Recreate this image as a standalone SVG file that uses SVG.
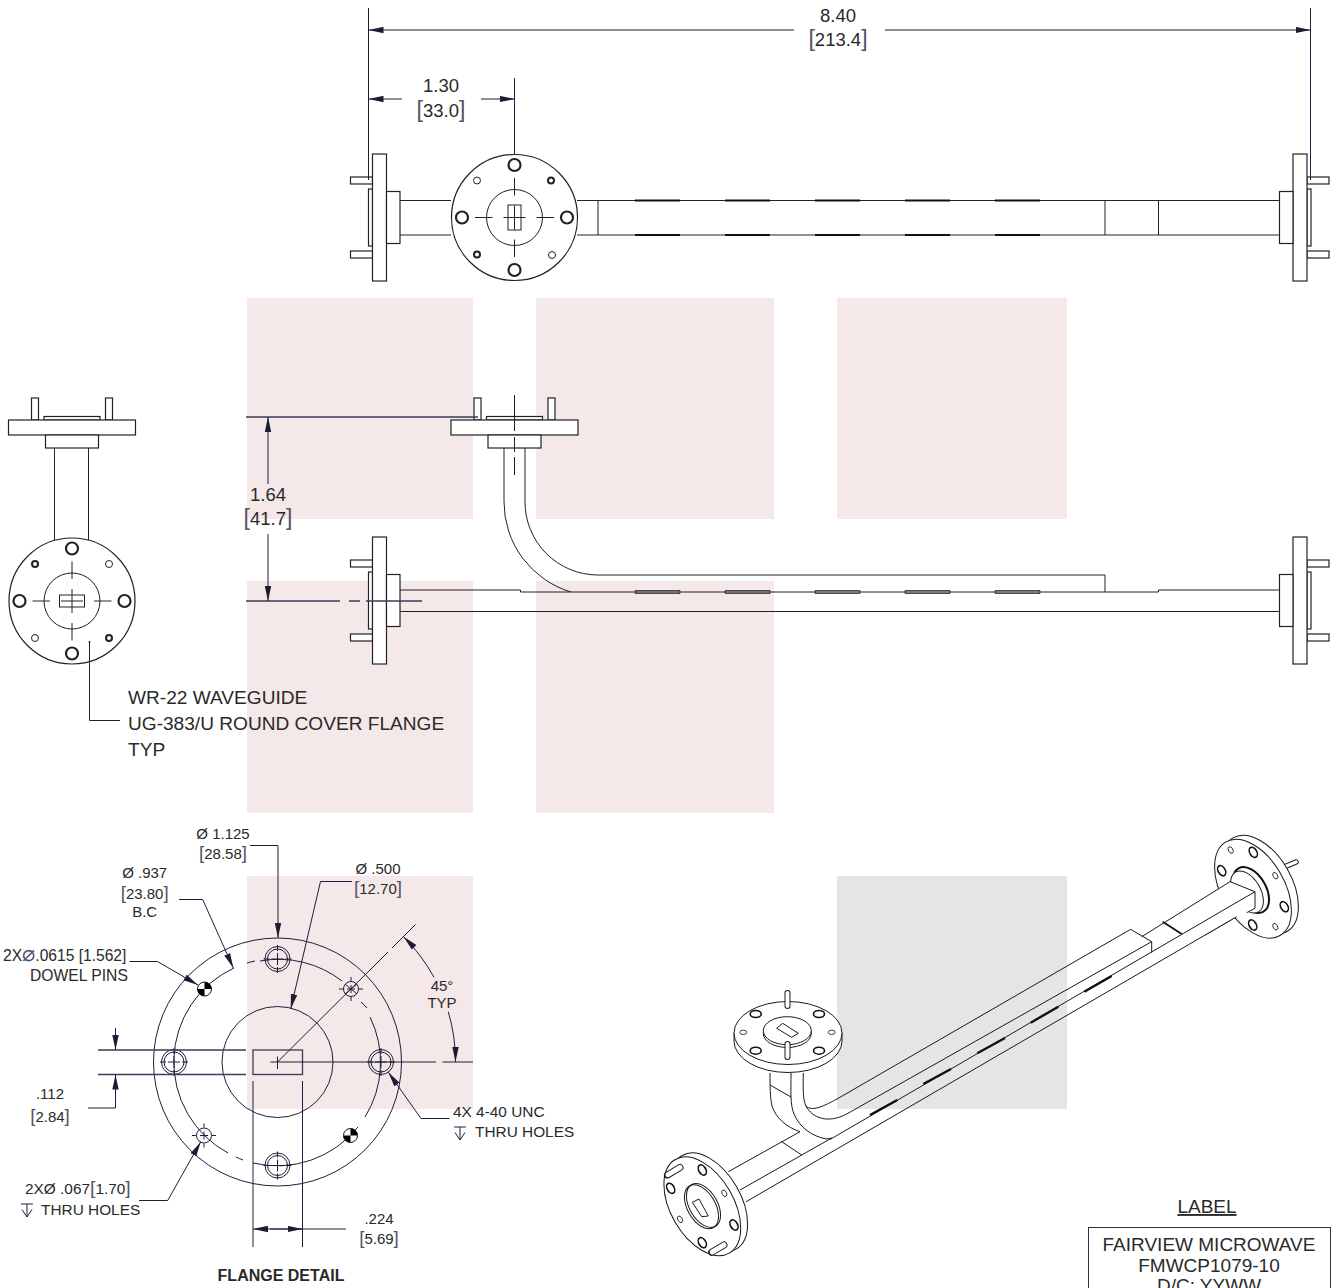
<svg xmlns="http://www.w3.org/2000/svg" width="1336" height="1288" viewBox="0 0 1336 1288">
<style>
text{font-family:"Liberation Sans",Arial,sans-serif;fill:#2a2a2a}
.t18{font-size:18.5px}.t15{font-size:15px}.t16{font-size:15.400px}.m{text-anchor:middle}
.lb{font-size:19px}
.b{font-size:1.25em;fill:#556}
.l,.l *{fill:none;stroke:#222;stroke-width:1}
.h{fill:#fff;stroke:#222;stroke-width:1.2}
.k{fill:none;stroke:#111;stroke-width:2.2}
.d{fill:none;stroke:#1e1e3c;stroke-width:1}
.dg{fill:none;stroke:#3c3c58;stroke-width:1.3}
.iso{fill:none;stroke:#1a1a1a;stroke-width:1}
.isoF{fill:#fff;stroke:#1a1a1a;stroke-width:1}
.pO{fill:none;stroke:#1a1a1a;stroke-width:7;stroke-linecap:round}
.pI{fill:none;stroke:#fff;stroke-width:5;stroke-linecap:round}
.th{fill:none;stroke:#111;stroke-width:2.4}
</style>
<defs>
<marker id="a" markerUnits="userSpaceOnUse" markerWidth="16" markerHeight="7" viewBox="0 0 16 7" refX="15" refY="3.500" orient="auto-start-reverse"><path d="M0 0.300L15 3.500L0 6.700Z" fill="#1c1c34"/></marker>
<g id="sf">
<rect class="h" x="350.500" y="-40.500" width="22" height="7"/><rect class="h" x="350.500" y="33.500" width="22" height="7"/>
<rect class="h" x="368.500" y="-28.500" width="4" height="57"/>
<rect class="h" x="372.500" y="-63.500" width="14" height="127"/>
<rect class="h" x="386.500" y="-26" width="13.500" height="52" stroke-width="1.500"/>
</g>
<g id="tf">
<rect class="h" x="-40.500" y="398" width="7" height="22"/><rect class="h" x="33.500" y="398" width="7" height="22"/>
<rect class="h" x="-28" y="416.500" width="56" height="3.500"/>
<rect class="h" x="-63.500" y="420" width="127" height="15"/>
<rect class="h" x="-26.500" y="435" width="53" height="13" stroke-width="1.500"/>
</g>
<g id="face">
<circle class="h" r="63"/><circle class="l" r="28"/>
<circle class="l" cx="0" cy="-52.500" r="6" style="stroke-width:2.200"/>
<circle class="l" cx="0" cy="52.500" r="6" style="stroke-width:2.200"/>
<circle class="l" cx="-52.500" cy="0" r="6" style="stroke-width:2.200"/>
<circle class="l" cx="52.500" cy="0" r="6" style="stroke-width:2.200"/>
<path class="l" d="M-39.500 0H-22M-11 0H11M22 0H39.500M0 -39.500V-22M0 -12V12M0 22V39.500"/>
</g>
<g id="bolt">
<circle r="12.500" fill="none" stroke="#1e1e3c"/><circle r="10" fill="none" stroke="#1e1e3c"/>
<path class="d" d="M-6 0H6M0 -6V6M-14 0H-8M8 0H14M0 -14V-8M0 8V14"/>
</g>
<g id="hole">
<circle r="7.500" fill="none" stroke="#1e1e3c"/>
<path class="d" d="M-4 0H4M0 -4V4M-12 0H-8M8 0H12M0 -12V-8M0 8V12"/>
</g>
<g id="dow"><circle r="7" fill="#fff" stroke="#111"/><path d="M0 0V-7A7 7 0 0 1 7 0ZM0 0V7A7 7 0 0 1 -7 0Z" fill="#000"/></g>
<path id="deep" class="d" d="M-6 0H6M0 0V13M-5 5.500L0 13L5 5.500"/>
<g id="ih"><ellipse rx="5.500" ry="3.500" fill="#fff" stroke="#111" stroke-width="1.600"/></g>
<g id="is"><ellipse rx="3.500" ry="2.200" fill="#fff" stroke="#111" stroke-width=".8"/></g>
</defs>

<g id="backgrounds" fill="#f4e8e8">
<rect x="247" y="298" width="226" height="221"/><rect x="536" y="298" width="238" height="221"/><rect x="837" y="298" width="230" height="221"/>
<rect x="247" y="581" width="226" height="232"/><rect x="536" y="581" width="238" height="232"/>
<rect x="247" y="876" width="226" height="233"/><rect x="837" y="876" width="230" height="233" fill="#e5e5e5"/>
</g>

<g id="top-view">
<g class="l"><path d="M400 200.500H451M400 235H451M577 200.500H1279.500M577 235H1279.500M598 200.500V235M1105 200.500V235M1158.500 200.500V235"/></g>
<path class="k" d="M635 200.500H680M725 200.500H770M815 200.500H860M905 200.500H950M995 200.500H1040M635 235H680M725 235H770M815 235H860M905 235H950M995 235H1040"/>
<use href="#sf" y="217.500"/>
<use href="#sf" transform="translate(1679.500,217.500) scale(-1,1)"/>
<use href="#face" x="514.500" y="217.500"/>
<circle class="l" cx="477" cy="180.500" r="3.500"/><circle class="l" cx="552" cy="255" r="3.500"/>
<circle class="l" cx="551" cy="180.500" r="3" style="stroke-width:2"/><circle class="l" cx="477" cy="254.500" r="3" style="stroke-width:2"/>
<rect class="l" x="508" y="205" width="13" height="25"/>
</g>

<g id="left-view">
<path class="l" d="M54.500 448V540M88.500 448V540"/>
<use href="#tf" x="72"/>
<use href="#face" x="72" y="601"/>
<circle class="l" cx="35" cy="564" r="3" style="stroke-width:2"/><circle class="l" cx="109" cy="564" r="3.500"/><circle class="l" cx="35" cy="638" r="3.500"/><circle class="l" cx="109" cy="638" r="3" style="stroke-width:2"/>
<rect class="l" x="59.500" y="595" width="25" height="12"/>
</g>

<g id="front-view">
<g class="l">
<path d="M504 448V501.500A94 94 0 0 0 571 592M525 448V501.500A73 73 0 0 0 598 575H1105V592"/>
<path d="M400 590H520.500V592H1158.500V590H1279.500M400 611.500H1279.500"/>
<path d="M635 590.700H680V593.300H635ZM725 590.700H770V593.300H725ZM815 590.700H860V593.300H815ZM905 590.700H950V593.300H905ZM995 590.700H1040V593.300H995Z"/>
</g>
<use href="#tf" x="514.500"/>
<use href="#sf" y="600.500"/>
<use href="#sf" transform="translate(1679.500,600.500) scale(-1,1)"/>
<path class="l" d="M514.500 395V431M514.500 437V452M514.500 457V475"/>
</g>

<g id="detail-view">
<circle class="d" cx="277.500" cy="1062" r="124"/>
<circle class="d" cx="277.500" cy="1062" r="55.500"/>
<path class="d" d="M234 968A103.500 103.500 0 0 0 228 1153M236 1157A103.500 103.500 0 0 0 243 1160M253 1163A103.500 103.500 0 0 0 358 1127M365 1117A103.500 103.500 0 0 0 370 1017M367 1008A103.500 103.500 0 0 0 361 1002M342 981A103.500 103.500 0 0 0 260 961M255 961A103.500 103.500 0 0 0 247 963"/>
<rect class="dg" x="253" y="1050" width="49.500" height="24.500"/>
<use href="#bolt" x="277.500" y="959"/><use href="#bolt" x="277.500" y="1165.500"/><use href="#bolt" x="174" y="1062"/><use href="#bolt" x="381" y="1062"/>
<use href="#hole" x="351" y="989"/><use href="#hole" x="204" y="1135.500"/>
<path class="d" d="M345 984L357 994M345 994L357 984"/>
<use href="#dow" x="204.500" y="989"/><use href="#dow" x="350.500" y="1135.500"/>
<path class="d" d="M277.500 1056.500V1069M270.500 1062H436M442.500 1062H473M277.500 1062L388 952M392 948L415.500 924.500"/>
<path class="dg" d="M98 1050H246M98 1074.500H246"/>
<path class="d" d="M253 1081V1247M302.500 1081V1247"/>
</g>

<g id="connectors">
<path class="d" d="M368.500 8V180M1310.500 8V180M514.500 78V155"/>
<path class="d" d="M794 30H368.500" marker-end="url(#a)"/><path class="d" d="M885 30H1310.500" marker-end="url(#a)"/>
<path class="d" d="M402 99H368.500" marker-end="url(#a)"/><path class="d" d="M481 99H514.500" marker-end="url(#a)"/>
<path class="dg" d="M246 417H478M246 601H340M349 601H360M366 601H422"/>
<path class="d" d="M268 484V417" marker-end="url(#a)"/><path class="d" d="M268 534V601" marker-end="url(#a)"/>
<circle cx="89.500" cy="642" r="1" fill="#222"/><path class="l" d="M89.500 642V720.500H120"/>
<path class="d" d="M250 845.500H278V938" marker-end="url(#a)"/>
<path class="d" d="M179 899.500H202.700L233.300 968" marker-end="url(#a)"/>
<path class="d" d="M129.500 961.500H157.500L198 985" marker-end="url(#a)"/>
<path class="d" d="M352 881.500H320.500L290.700 1009" marker-end="url(#a)"/>
<path class="d" d="M434 977.300A178 178 0 0 0 403.500 936.700" marker-end="url(#a)"/>
<path class="d" d="M448.300 1011.700A178 178 0 0 1 455.500 1062" marker-end="url(#a)"/>
<path class="d" d="M449.500 1118.500H421L388.300 1072.300" marker-end="url(#a)"/>
<path class="d" d="M139 1200.500H167.700L200.800 1141.700" marker-end="url(#a)"/>
<path class="d" d="M115.500 1028V1050" marker-end="url(#a)"/>
<path class="d" d="M88 1108H115.500V1074.500" marker-end="url(#a)"/>
<path class="d" d="M346 1229H253" marker-end="url(#a)"/><path class="d" d="M270 1229H302.500" marker-end="url(#a)"/>
</g>

<g id="iso-view">
<g id="iso-lower-flange">
<ellipse class="isoF" cx="709.200" cy="1202.300" rx="54" ry="31.500" transform="rotate(60 709.200 1202.300)"/>
<ellipse class="isoF" cx="702.300" cy="1206.300" rx="54" ry="31.500" transform="rotate(60 702.300 1206.300)"/>
<ellipse class="iso" cx="703.500" cy="1205.500" rx="24" ry="14" transform="rotate(60 703.500 1205.500)"/>
<ellipse class="iso" cx="701.500" cy="1206.800" rx="24" ry="14" transform="rotate(60 701.500 1206.800)"/>
<path class="iso" d="M692.300 1202.300L699 1199L708.300 1216L701.700 1216.700Z"/>
<use href="#ih" transform="translate(702.300,1170) rotate(60)"/><use href="#ih" transform="translate(670.700,1188.300) rotate(60)"/><use href="#ih" transform="translate(734,1225) rotate(60)"/><use href="#ih" transform="translate(702.300,1242.700) rotate(60)"/>
<use href="#is" transform="translate(724.300,1193.300) rotate(60)"/><use href="#is" transform="translate(680,1219.300) rotate(60)"/>
<path class="pO" d="M667.500 1175L680 1167.500M711.700 1252.300L724 1245"/><path class="pI" d="M668 1174.700L680 1167.500M712.200 1252L724 1245"/>
</g>
<path class="iso" d="M728.300 1171.700L800 1131.700M781.700 1141.700L801.700 1155M740 1190L830 1139M746 1201.800L1236.700 916.700"/>
<path class="iso" d="M770 1073C770 1085 770 1097 772 1106C776 1118 786 1127 800 1131.700M791 1073C791 1090 790 1105 794 1114C800 1128 812 1136 826 1139L832 1138M803.300 1073C803 1090 803 1100 806 1106C812 1118 828 1124 846.700 1114M806 1106C812 1112 824 1106 837 1099M770 1085L791 1097"/>
<path class="iso" d="M837 1099L1130.700 929.300L1151.700 941.700V952.700M846.700 1114L1151.700 941.700M830 1139.500L1255 891.700V908.300L1246.700 912.700"/>
<path class="th" d="M870 1115L897.300 1100M923.300 1084L951 1069M977.300 1053.300L1005 1038M1030.700 1022.700L1058.300 1006.700M1084.300 991.700L1111.700 976"/>
<g id="iso-top-flange">
<path class="isoF" d="M734 1033V1041A54 31.500 0 0 0 842 1041V1033Z"/>
<ellipse class="isoF" cx="788" cy="1033" rx="54" ry="31.500"/>
<path class="pO" d="M787.500 993V1006" style="stroke-width:6"/><path class="pI" d="M787.500 993V1006" style="stroke-width:4"/>
<ellipse class="iso" cx="787.300" cy="1033.500" rx="24" ry="14"/>
<ellipse class="isoF" cx="787.300" cy="1030.700" rx="24" ry="14"/>
<path class="iso" d="M776.700 1028.300L782.700 1023.300L798.300 1033.300L791.700 1037.300Z"/>
<path class="pO" d="M787.500 1044V1057" style="stroke-width:6"/><path class="pI" d="M787.500 1044V1057" style="stroke-width:4"/>
<use href="#ih" x="755.700" y="1014"/><use href="#ih" x="819" y="1014"/><use href="#ih" x="755.700" y="1050.700"/><use href="#ih" x="819" y="1050.700"/>
<use href="#is" x="743.300" y="1032.300"/><use href="#is" x="831.700" y="1032.300"/>
</g>
<g id="iso-upper-flange">
<path class="pO" d="M1270 873L1296 862" style="stroke-width:5.500"/><path class="pI" d="M1270 873L1296 862" style="stroke-width:3.500"/>
<ellipse class="isoF" cx="1260" cy="884.700" rx="54" ry="31.500" transform="rotate(60 1260 884.700)"/>
<ellipse class="isoF" cx="1253" cy="888.700" rx="54" ry="31.500" transform="rotate(60 1253 888.700)"/>
<use href="#ih" transform="translate(1253.300,852.300) rotate(60)"/><use href="#ih" transform="translate(1221.700,870.700) rotate(60)"/><use href="#ih" transform="translate(1284.300,906.700) rotate(60)"/><use href="#ih" transform="translate(1252.700,925) rotate(60)"/>
<use href="#is" transform="translate(1230.700,850) rotate(60)"/><use href="#is" transform="translate(1275.300,875.700) rotate(60)"/><use href="#is" transform="translate(1275.300,926.700) rotate(60)"/>
<ellipse cx="1251" cy="890" rx="25" ry="15" transform="rotate(60 1251 890)" fill="#fff" stroke="#111" stroke-width="2"/>
<ellipse class="isoF" cx="1247" cy="892" rx="23" ry="13.500" transform="rotate(60 1247 892)"/>
<path d="M1205 897L1230 881.700L1255 891.700V908.300L1246.700 912.700L1236.700 916.700L1205 935.100Z" fill="#fff"/>
<path class="iso" d="M1141.700 936.700L1230 881.700L1255 891.700V908.300L1246.700 912.700M1205 920.800L1255 891.700M1205 935.100L1236.700 916.700"/>
<path d="M1162.700 921.700L1181.700 934" fill="none" stroke="#111" stroke-width="1.800"/>
</g>
</g>

<g id="labels">
<text class="t18 m" x="838" y="21.500">8.40</text>
<text class="t18 m" x="838" y="46"><tspan class="b">[</tspan>213.4<tspan class="b">]</tspan></text>
<text class="t18 m" x="441" y="92">1.30</text>
<text class="t18 m" x="441" y="116.500"><tspan class="b">[</tspan>33.0<tspan class="b">]</tspan></text>
<text class="t18 m" x="268" y="500.500">1.64</text>
<text class="t18 m" x="268" y="525"><tspan class="b">[</tspan>41.7<tspan class="b">]</tspan></text>
<text x="128" y="704" style="font-size:19.100px">WR-22 WAVEGUIDE</text>
<text x="128" y="730" style="font-size:19.100px">UG-383/U ROUND COVER FLANGE</text>
<text x="128" y="756" style="font-size:19.100px">TYP</text>
<text class="t15 m" x="223" y="838.500">Ø 1.125</text>
<text class="t15 m" x="223" y="859"><tspan class="b">[</tspan>28.58<tspan class="b">]</tspan></text>
<text class="t15 m" x="144.700" y="878">Ø .937</text>
<text class="t15 m" x="144.700" y="898.500"><tspan class="b">[</tspan>23.80<tspan class="b">]</tspan></text>
<text class="t15 m" x="144.700" y="917">B.C</text>
<text class="t15 m" x="378" y="874">Ø .500</text>
<text class="t15 m" x="378" y="894"><tspan class="b">[</tspan>12.70<tspan class="b">]</tspan></text>
<text class="t15" x="3" y="960.500" style="font-size:15.600px">2X<tspan style="font-family:'DejaVu Sans',sans-serif;fill:#557;font-size:22px">⌀</tspan>.0615 [1.562]</text>
<text style="font-size:15.700px" x="30" y="980.500">DOWEL PINS</text>
<text class="t15 m" x="442" y="990.500">45°</text>
<text class="t15 m" x="442" y="1007.500">TYP</text>
<text class="t15 m" x="50" y="1099">.112</text>
<text class="t15 m" x="50" y="1122"><tspan class="b">[</tspan>2.84<tspan class="b">]</tspan></text>
<text class="t16" x="453" y="1117">4X 4-40 UNC</text>
<use href="#deep" x="460" y="1127"/>
<text class="t16" x="475" y="1137">THRU HOLES</text>
<text class="t16" x="25" y="1194">2XØ .067<tspan class="b">[</tspan>1.70<tspan class="b">]</tspan></text>
<use href="#deep" x="27" y="1204"/>
<text class="t16" x="41" y="1215">THRU HOLES</text>
<text class="t15 m" x="379" y="1224">.224</text>
<text class="t15 m" x="379" y="1244"><tspan class="b">[</tspan>5.69<tspan class="b">]</tspan></text>
<text class="m" x="281" y="1281" style="font-size:16px;font-weight:bold">FLANGE DETAIL</text>
<text class="m lb" x="1207" y="1213" style="text-decoration:underline">LABEL</text>
<rect x="1088.500" y="1227.500" width="242" height="80" fill="#fff" stroke="#333"/>
<text class="m lb" x="1209" y="1250.500">FAIRVIEW MICROWAVE</text>
<text class="m lb" x="1209" y="1271.500">FMWCP1079-10</text>
<text class="m lb" x="1209" y="1291.500">D/C: YYWW</text>
</g>
</svg>
